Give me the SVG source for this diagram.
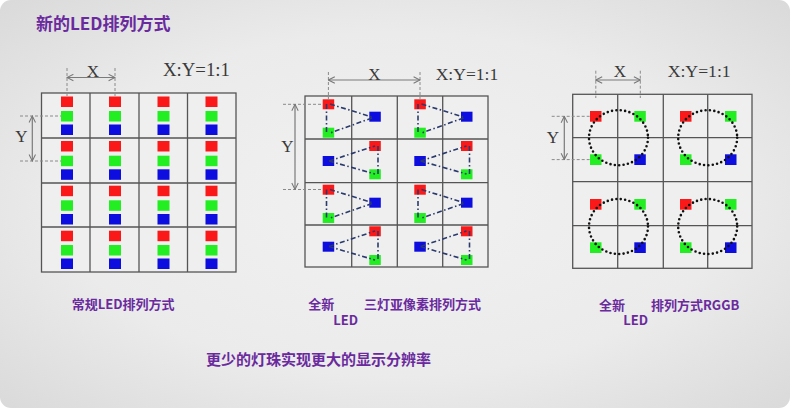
<svg xmlns="http://www.w3.org/2000/svg" width="790" height="408" viewBox="0 0 790 408">
<defs>
<radialGradient id="bg" cx="0.5" cy="0.5" r="0.7">
<stop offset="0" stop-color="#f1f1f1"/>
<stop offset="0.6" stop-color="#ebebeb"/>
<stop offset="1" stop-color="#dadada"/>
</radialGradient>
<marker id="arr" viewBox="0 0 10 10" refX="9" refY="5" markerWidth="8" markerHeight="8" markerUnits="userSpaceOnUse" orient="auto-start-reverse">
<path d="M1,1 L9,5 L1,9" fill="none" stroke="#777" stroke-width="1.3"/>
</marker>
<style>
.grid{fill:#efefef;stroke:#555;stroke-width:1.3}
.gl{stroke:#555;stroke-width:1.3}
.r{fill:#fa1818}
.g{fill:#22ee22}
.b{fill:#0d0de0}
.dim{stroke:#7a7a7a;stroke-width:1.2;fill:none}
.ext{stroke:#8a8a8a;stroke-width:1;stroke-dasharray:3 2;fill:none}
.dd{stroke:#2a3a6c;stroke-width:1.6;stroke-dasharray:5 2.5 1.5 2.5;fill:none}
.ring{fill:none;stroke:#111;stroke-width:2.6;stroke-dasharray:0 4.4;stroke-linecap:round}
.ser{font-family:"Liberation Serif","Times New Roman",serif;fill:#3a3a3a}
.lbl{font-family:"Noto Sans CJK SC","Noto Sans",sans-serif;font-weight:bold;fill:#6a2a9e}
</style>
</defs>
<rect x="0" y="0" width="790" height="408" fill="#ffffff"/>
<rect x="0" y="0" width="790" height="408" rx="11" fill="url(#bg)"/>

<text class="lbl" x="36" y="30" font-size="17">新的LED排列方式</text>

<!-- Left panel: conventional -->
<g id="panel-left">
<rect class="grid" x="41.5" y="93" width="194.5" height="179"/>
<path class="gl" d="M90,93V272M139,93V272M187.5,93V272M41.5,138H236M41.5,183H236M41.5,227H236"/>
<g id="left-leds">
<rect class="r" x="61" y="96.5" width="12" height="10.5"/><rect class="g" x="61" y="111" width="12" height="10.5"/><rect class="b" x="61" y="124.5" width="12" height="10.5"/>
<rect class="r" x="109" y="96.5" width="12" height="10.5"/><rect class="g" x="109" y="111" width="12" height="10.5"/><rect class="b" x="109" y="124.5" width="12" height="10.5"/>
<rect class="r" x="157.5" y="96.5" width="12" height="10.5"/><rect class="g" x="157.5" y="111" width="12" height="10.5"/><rect class="b" x="157.5" y="124.5" width="12" height="10.5"/>
<rect class="r" x="205.5" y="96.5" width="12" height="10.5"/><rect class="g" x="205.5" y="111" width="12" height="10.5"/><rect class="b" x="205.5" y="124.5" width="12" height="10.5"/>

<rect class="r" x="61" y="141" width="12" height="10.5"/><rect class="g" x="61" y="155.7" width="12" height="10.5"/><rect class="b" x="61" y="169.3" width="12" height="10.5"/>
<rect class="r" x="109" y="141" width="12" height="10.5"/><rect class="g" x="109" y="155.7" width="12" height="10.5"/><rect class="b" x="109" y="169.3" width="12" height="10.5"/>
<rect class="r" x="157.5" y="141" width="12" height="10.5"/><rect class="g" x="157.5" y="155.7" width="12" height="10.5"/><rect class="b" x="157.5" y="169.3" width="12" height="10.5"/>
<rect class="r" x="205.5" y="141" width="12" height="10.5"/><rect class="g" x="205.5" y="155.7" width="12" height="10.5"/><rect class="b" x="205.5" y="169.3" width="12" height="10.5"/>

<rect class="r" x="61" y="185.7" width="12" height="10.5"/><rect class="g" x="61" y="200.3" width="12" height="10.5"/><rect class="b" x="61" y="214" width="12" height="10.5"/>
<rect class="r" x="109" y="185.7" width="12" height="10.5"/><rect class="g" x="109" y="200.3" width="12" height="10.5"/><rect class="b" x="109" y="214" width="12" height="10.5"/>
<rect class="r" x="157.5" y="185.7" width="12" height="10.5"/><rect class="g" x="157.5" y="200.3" width="12" height="10.5"/><rect class="b" x="157.5" y="214" width="12" height="10.5"/>
<rect class="r" x="205.5" y="185.7" width="12" height="10.5"/><rect class="g" x="205.5" y="200.3" width="12" height="10.5"/><rect class="b" x="205.5" y="214" width="12" height="10.5"/>

<rect class="r" x="61" y="230.7" width="12" height="10.5"/><rect class="g" x="61" y="245" width="12" height="10.5"/><rect class="b" x="61" y="258.5" width="12" height="10.5"/>
<rect class="r" x="109" y="230.7" width="12" height="10.5"/><rect class="g" x="109" y="245" width="12" height="10.5"/><rect class="b" x="109" y="258.5" width="12" height="10.5"/>
<rect class="r" x="157.5" y="230.7" width="12" height="10.5"/><rect class="g" x="157.5" y="245" width="12" height="10.5"/><rect class="b" x="157.5" y="258.5" width="12" height="10.5"/>
<rect class="r" x="205.5" y="230.7" width="12" height="10.5"/><rect class="g" x="205.5" y="245" width="12" height="10.5"/><rect class="b" x="205.5" y="258.5" width="12" height="10.5"/>
</g>
<g id="left-dims">
<path class="ext" d="M67,68V96.5M115,68V96.5M20,116H61M20,161H61"/>
<path class="dim" d="M67,77.5H115" marker-start="url(#arr)" marker-end="url(#arr)"/>
<path class="dim" d="M32.3,116V161" marker-start="url(#arr)" marker-end="url(#arr)"/>
<text class="ser" x="93" y="76.5" font-size="17" text-anchor="middle">X</text>
<text class="ser" x="21.5" y="141.5" font-size="17" text-anchor="middle">Y</text>
<text class="ser" x="163" y="76" font-size="18" textLength="67" lengthAdjust="spacingAndGlyphs">X:Y=1:1</text>
</g>
<text class="lbl" x="71.7" y="308.5" font-size="13">常规LED排列方式</text>
</g>

<!-- Middle panel: three-LED sub-pixel -->
<g id="panel-middle">
<rect class="grid" x="305" y="96" width="183" height="171"/>
<path class="gl" d="M351.7,96V267M397.3,96V267M442.7,96V267M305,139H488M305,182.7H488M305,225H488"/>
<g id="middle-leds">
<rect class="r" x="322.7" y="99.3" width="11.5" height="10"/><rect class="b" x="369.3" y="111.7" width="11.5" height="10"/><rect class="g" x="322.7" y="127.7" width="11.5" height="10"/>
<rect class="r" x="414.3" y="99.3" width="11.5" height="10"/><rect class="b" x="461" y="111.7" width="11.5" height="10"/><rect class="g" x="414.3" y="127.7" width="11.5" height="10"/>

<rect class="r" x="369.3" y="141" width="11.5" height="10"/><rect class="b" x="322.7" y="156" width="11.5" height="10"/><rect class="g" x="369.3" y="169.3" width="11.5" height="10"/>
<rect class="r" x="461" y="141" width="11.5" height="10"/><rect class="b" x="414.3" y="156" width="11.5" height="10"/><rect class="g" x="461" y="169.3" width="11.5" height="10"/>

<rect class="r" x="322.7" y="184.7" width="11.5" height="10"/><rect class="b" x="369.3" y="197.7" width="11.5" height="10"/><rect class="g" x="322.7" y="213" width="11.5" height="10"/>
<rect class="r" x="414.3" y="184.7" width="11.5" height="10"/><rect class="b" x="461" y="197.7" width="11.5" height="10"/><rect class="g" x="414.3" y="213" width="11.5" height="10"/>

<rect class="r" x="369.3" y="226.3" width="11.5" height="10"/><rect class="b" x="322.7" y="241.7" width="11.5" height="10"/><rect class="g" x="369.3" y="255" width="11.5" height="10"/>
<rect class="r" x="461" y="226.3" width="11.5" height="10"/><rect class="b" x="414.3" y="241.7" width="11.5" height="10"/><rect class="g" x="461" y="255" width="11.5" height="10"/>
</g>
<g id="connectors">
<path class="dd" d="M326.5,104V133M330,104L372,117M372,118L330,133"/>
<path class="dd" d="M418,104V133M421.5,104L463.5,117M463.5,118L421.5,133"/>
<path class="dd" d="M378,146V174M329,161L375,146M329,161L375,174"/>
<path class="dd" d="M469.5,146V174M420.5,161L466.5,146M420.5,161L466.5,174"/>
<path class="dd" d="M326.5,189.5V218M330,189.5L372,202.5M372,203.5L330,218"/>
<path class="dd" d="M418,189.5V218M421.5,189.5L463.5,202.5M463.5,203.5L421.5,218"/>
<path class="dd" d="M378,231V260M329,246.5L375,231M329,246.5L375,260"/>
<path class="dd" d="M469.5,231V260M420.5,246.5L466.5,231M420.5,246.5L466.5,260"/>
</g>
<g id="middle-dims">
<path class="ext" d="M328.4,72V100M420,72V100M283,104.3H323M283,189.5H323"/>
<path class="dim" d="M328.4,80H420" marker-start="url(#arr)" marker-end="url(#arr)"/>
<path class="dim" d="M295,104.3V189.5" marker-start="url(#arr)" marker-end="url(#arr)"/>
<text class="ser" x="374.5" y="79.5" font-size="17" text-anchor="middle">X</text>
<text class="ser" x="287.5" y="152" font-size="17" text-anchor="middle">Y</text>
<text class="ser" x="435.7" y="80" font-size="17" textLength="62.6" lengthAdjust="spacingAndGlyphs">X:Y=1:1</text>
</g>
<text class="lbl" x="308.3" y="308.5" font-size="13">全新</text>
<text class="lbl" x="333.3" y="325" font-size="13">LED</text>
<text class="lbl" x="364" y="308.5" font-size="13">三灯亚像素排列方式</text>
</g>

<!-- Right panel: RGGB -->
<g id="panel-right">
<rect class="grid" x="572.7" y="94.3" width="179.3" height="174"/>
<path class="gl" d="M617.7,94.3V268.3M663.3,94.3V268.3M707.7,94.3V268.3M572.7,137.7H752M572.7,181.7H752M572.7,225.7H752"/>
<g id="right-leds">
<rect class="r" x="590" y="111" width="11.5" height="10.7"/><rect class="g" x="634.3" y="111" width="11.5" height="10.7"/><rect class="g" x="590" y="154.3" width="11.5" height="10.7"/><rect class="b" x="634.3" y="154.3" width="11.5" height="10.7"/>
<rect class="r" x="680" y="111" width="11.5" height="10.7"/><rect class="g" x="725" y="111" width="11.5" height="10.7"/><rect class="g" x="680" y="154.3" width="11.5" height="10.7"/><rect class="b" x="725" y="154.3" width="11.5" height="10.7"/>
<rect class="r" x="590" y="199" width="11.5" height="10.7"/><rect class="g" x="634.3" y="199" width="11.5" height="10.7"/><rect class="g" x="590" y="242.3" width="11.5" height="10.7"/><rect class="b" x="634.3" y="242.3" width="11.5" height="10.7"/>
<rect class="r" x="680" y="199" width="11.5" height="10.7"/><rect class="g" x="725" y="199" width="11.5" height="10.7"/><rect class="g" x="680" y="242.3" width="11.5" height="10.7"/><rect class="b" x="725" y="242.3" width="11.5" height="10.7"/>
</g>
<g id="right-rings">
<ellipse class="ring" cx="618.5" cy="137.7" rx="29.5" ry="27.5"/>
<ellipse class="ring" cx="707.7" cy="137.7" rx="29.5" ry="27.5"/>
<ellipse class="ring" cx="618.5" cy="226.5" rx="29.5" ry="27.5"/>
<ellipse class="ring" cx="707.7" cy="226.5" rx="29.5" ry="27.5"/>
</g>
<g id="right-dims">
<path class="ext" d="M595.8,70.7V98M640.3,70.7V98M551.7,116.3H590M551.7,159.6H590"/>
<path class="dim" d="M595.8,80H640.3" marker-start="url(#arr)" marker-end="url(#arr)"/>
<path class="dim" d="M564.3,116.3V159.6" marker-start="url(#arr)" marker-end="url(#arr)"/>
<text class="ser" x="620" y="76.5" font-size="17" text-anchor="middle">X</text>
<text class="ser" x="553" y="143.3" font-size="17" text-anchor="middle">Y</text>
<text class="ser" x="667.7" y="77" font-size="17" textLength="63" lengthAdjust="spacingAndGlyphs">X:Y=1:1</text>
</g>
<text class="lbl" x="599" y="309.5" font-size="13">全新</text>
<text class="lbl" x="623.3" y="325" font-size="13">LED</text>
<text class="lbl" x="651" y="309.5" font-size="13">排列方式RGGB</text>
</g>

<text class="lbl" x="206" y="365" font-size="15">更少的灯珠实现更大的显示分辨率</text>
</svg>
